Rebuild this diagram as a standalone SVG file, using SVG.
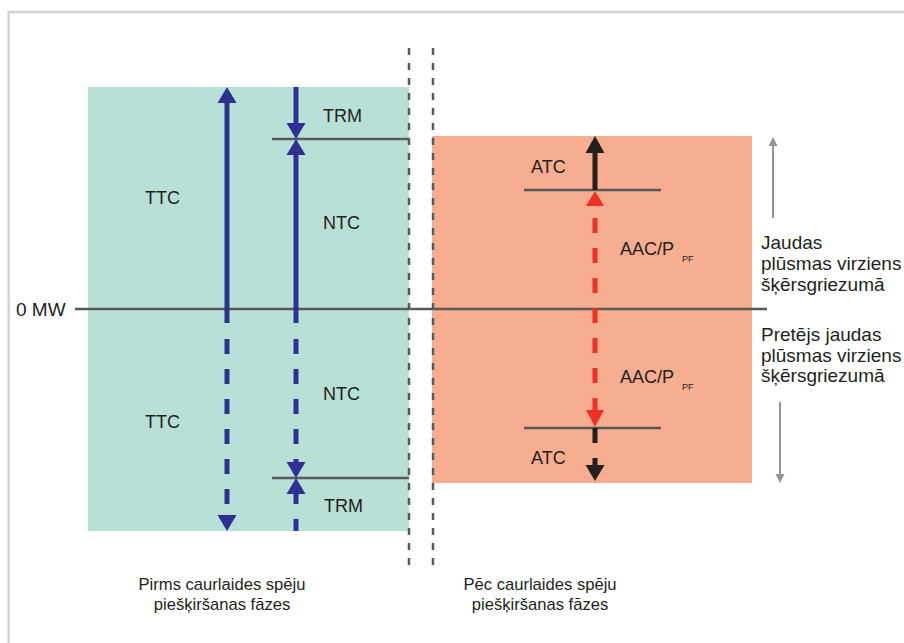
<svg xmlns="http://www.w3.org/2000/svg" width="904" height="643" viewBox="0 0 904 643">
<style>
text{font-family:"Liberation Sans",Arial,sans-serif;font-size:18px;fill:#231f20}
.side{font-size:19px}
.foot{font-size:16.6px}
.sub{font-size:9px}
.ref{stroke:#58595b;stroke-width:2.5;fill:none}
.sep{stroke:#58595b;stroke-width:2.5;stroke-dasharray:7 8;fill:none}
.blue{stroke:#2e3192;stroke-width:5;fill:none}
.bluedash{stroke:#2e3192;stroke-width:5;stroke-dasharray:15 15;fill:none}
.red{stroke:#ee3124;stroke-width:5;stroke-dasharray:15 15;fill:none}
.blk{stroke:#231f20;stroke-width:5;fill:none}
.gray{stroke:#939598;stroke-width:2;fill:none}
</style>
<rect x="0" y="0" width="904" height="643" fill="#ffffff"/>
<rect x="8.7" y="12" width="1000" height="1000" fill="none" stroke="#d4d4d4" stroke-width="2.6"/>

<g id="phase-before">
<rect x="88" y="87" width="321" height="444" fill="#b8e0d7"/>
</g>
<g id="phase-after">
<rect x="432" y="136" width="320" height="347" fill="#f7ad8f"/>
</g>

<g id="reference-lines">
<line class="ref" x1="75" y1="309" x2="767" y2="309"/>
<line class="ref" x1="272" y1="139" x2="409" y2="139"/>
<line class="ref" x1="272" y1="478" x2="409" y2="478"/>
<line class="ref" x1="524" y1="190" x2="661" y2="190"/>
<line class="ref" x1="524" y1="428" x2="661" y2="428"/>
<line class="sep" x1="409" y1="48" x2="409" y2="567"/>
<line class="sep" x1="433" y1="48" x2="433" y2="567"/>
</g>

<g id="connectors">
<!-- TTC -->
<line class="blue" x1="227" y1="100" x2="227" y2="323"/>
<polygon points="227,87 217.5,103 236.5,103" fill="#2e3192"/>
<line class="bluedash" x1="227" y1="339" x2="227" y2="516"/>
<polygon points="227,531 217.5,515 236.5,515" fill="#2e3192"/>
<!-- NTC / TRM upper -->
<line class="blue" x1="296" y1="87" x2="296" y2="126"/>
<polygon points="296,139 286.5,123 305.5,123" fill="#2e3192"/>
<polygon points="296,139 286.5,155 305.5,155" fill="#2e3192"/>
<line class="blue" x1="296" y1="152" x2="296" y2="323"/>
<!-- NTC / TRM lower -->
<line class="bluedash" x1="296" y1="339" x2="296" y2="531"/>
<polygon points="296,478 286.5,462 305.5,462" fill="#2e3192"/>
<polygon points="296,478 286.5,494 305.5,494" fill="#2e3192"/>
<!-- ATC upper -->
<line class="blk" x1="595" y1="150" x2="595" y2="190"/>
<polygon points="595,136 585.5,153 604.5,153" fill="#231f20"/>
<!-- AAC -->
<polygon points="595,191 586,206 604,206" fill="#ee3124"/>
<line class="red" x1="595" y1="218" x2="595" y2="412"/>
<polygon points="595,427 586,410 604,410" fill="#ee3124"/>
<!-- ATC lower -->
<line class="blk" x1="595" y1="428" x2="595" y2="443"/>
<line class="blk" x1="595" y1="458" x2="595" y2="468"/>
<polygon points="595,481 585.5,465 604.5,465" fill="#231f20"/>
<!-- flow direction -->
<line class="gray" x1="773" y1="218" x2="773" y2="143"/>
<polygon points="773,137 768.5,146 777.5,146" fill="#939598"/>
<line class="gray" x1="780" y1="402" x2="780" y2="477"/>
<polygon points="780,483 775.5,474 784.5,474" fill="#939598"/>
</g>

<g id="labels">
<text class="side" x="16" y="316">0 MW</text>
<text x="145" y="204">TTC</text>
<text x="145" y="428">TTC</text>
<text x="323" y="122">TRM</text>
<text x="323" y="229">NTC</text>
<text x="323" y="400">NTC</text>
<text x="324" y="512">TRM</text>
<text x="531" y="173">ATC</text>
<text x="531" y="464">ATC</text>
<text x="620" y="255">AAC/P<tspan class="sub" x="682" y="262">PF</tspan></text>
<text x="620" y="383">AAC/P<tspan class="sub" x="682" y="390">PF</tspan></text>
<text class="side" x="761" y="249">Jaudas</text>
<text class="side" x="761" y="270">plūsmas virziens</text>
<text class="side" x="761" y="291">šķērsgriezumā</text>
<text class="side" x="761" y="341">Pretējs jaudas</text>
<text class="side" x="761" y="362">plūsmas virziens</text>
<text class="side" x="761" y="382">šķērsgriezumā</text>
<text class="foot" x="222" y="590" text-anchor="middle">Pirms caurlaides spēju</text>
<text class="foot" x="222" y="610" text-anchor="middle">piešķiršanas fāzes</text>
<text class="foot" x="540" y="590" text-anchor="middle">Pēc caurlaides spēju</text>
<text class="foot" x="540" y="610" text-anchor="middle">piešķiršanas fāzes</text>
</g>
</svg>
